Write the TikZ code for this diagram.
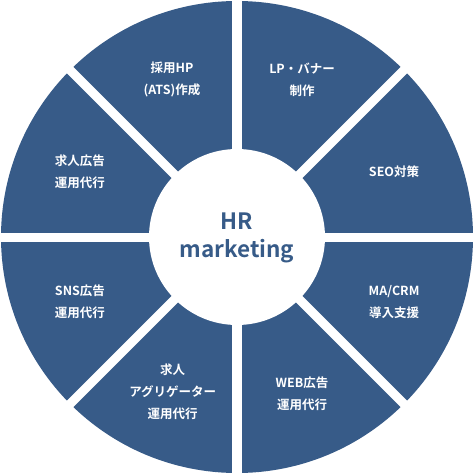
\documentclass[tikz,border=0pt]{standalone}
\usepackage{fontspec}
\newfontfamily\jpfont{Noto Sans CJK JP}[BoldFont={Noto Sans CJK JP Bold}]
\definecolor{hrblue}{RGB}{55,91,136}

\begin{document}
\begin{tikzpicture}[x=1pt,y=1pt,
    item/.style={text=white,font=\jpfont\bfseries\fontsize{12.5}{22}\selectfont,align=center},
    hub/.style={text=hrblue,font=\jpfont\bfseries\fontsize{22.5}{28}\selectfont,align=center}]
  % page frame
  \useasboundingbox (-237,-237) rectangle (237,237);

  % outer disc
  \fill[hrblue] (0,0) circle (236);

  % white gaps between the eight sectors
  \foreach \a in {0,45,90,135}
    \draw[white,line width=9] (\a:240) -- (\a+180:240);

  % inner disc
  \fill[white] (0,0) circle (88);

  % sector labels
  \node[item] (hp)     at (112.5:170) {採用HP\\(ATS)作成};
  \node[item] (lp)     at (67.5:170)  {LP・バナー\\制作};
  \node[item] (seo)    at (22.5:170)  {SEO対策};
  \node[item] (macrm)  at (-22.5:170) {MA/CRM\\導入支援};
  \node[item] (web)    at (-67.5:170) {WEB広告\\運用代行};
  \node[item] (agg)    at (-112.5:168) {求人\\アグリゲーター\\運用代行};
  \node[item] (sns)    at (-157.5:170) {SNS広告\\運用代行};
  \node[item] (kyujin) at (157.5:170) {求人広告\\運用代行};

  % centre label
  \node[hub] (hr) at (0,-1) {HR\\marketing};
\end{tikzpicture}
\end{document}
